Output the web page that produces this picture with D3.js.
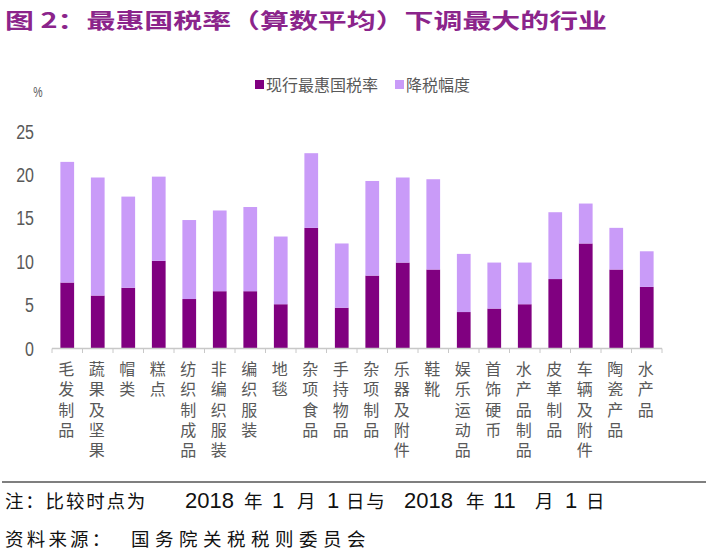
<!DOCTYPE html>
<html><head><meta charset="utf-8">
<script src="https://cdn.jsdelivr.net/npm/d3@7"></script>
<style>
html,body{margin:0;padding:0;background:#fff;}
svg{display:block;}
text{font-family:"Noto Sans CJK SC","Noto Sans",sans-serif;}
</style></head>
<body>
<script>
const categories = ["毛发制品","蔬果及坚果","帽类","糕点","纺织制成品","非编织服装","编织服装","地毯","杂项食品","手持物品","杂项制品","乐器及附件","鞋靴","娱乐运动品","首饰硬币","水产品制品","皮革制品","车辆及附件","陶瓷产品","水产品"];
const currentRate = [7.6,6.1,7.0,10.1,5.7,6.6,6.6,5.1,13.9,4.7,8.4,9.9,9.1,4.2,4.6,5.1,8.0,12.1,9.1,7.1];
const preRate    = [21.5,19.7,17.5,19.8,14.8,15.9,16.3,12.9,22.5,12.1,19.3,19.7,19.5,10.9,9.9,9.9,15.7,16.7,13.9,11.2];
const cut = preRate.map((v,i)=>+(v-currentRate[i]).toFixed(2));
const yTicks = [0,5,10,15,20,25];
const seriesNames = ["现行最惠国税率","降税幅度"];
const colors = ["#800080","#C99BF8"];
const titleText = "图 2：最惠国税率（算数平均）下调最大的行业";
const noteTokens = ["注：比较时点为","2018","年","1","月","1","日与","2018","年","11","月","1","日"];
const sourceTokens = ["资料来源：","国务院关税税则委员会"];

const W=708,H=556;
const svg = d3.select("body").append("svg").attr("width",W).attr("height",H);

// title
svg.append("text").attr("x",5).attr("y",28).attr("font-size",21).attr("font-weight",700)
  .attr("fill","#8B248B").attr("textLength",602).attr("lengthAdjust","spacingAndGlyphs").text(titleText);

const x = d3.scaleBand().domain(categories).range([52,662]).paddingInner(0.55).paddingOuter(0.275);
const y = d3.scaleLinear().domain([0,25]).range([348.5,131.5]);

const stackData = categories.map((c,i)=>({cat:c, a:currentRate[i], b:cut[i]}));
const stack = d3.stack().keys(["a","b"])(stackData);

svg.append("g").selectAll("g").data(stack).join("g").attr("fill",(d,i)=>colors[i])
  .selectAll("rect").data(d=>d).join("rect")
  .attr("x",d=>x(d.data.cat)).attr("width",x.bandwidth())
  .attr("y",d=>y(d[1])).attr("height",d=>y(d[0])-y(d[1]));

// x axis line and ticks at band boundaries
const xa = svg.append("g");
const [r0,r1] = x.range();
xa.append("line").attr("x1",r0).attr("x2",r1).attr("y1",348.5).attr("y2",348.5).attr("stroke","#C8C8C8").attr("stroke-width",1.5);
const bounds = d3.range(categories.length+1).map(i=>r0+i*x.step());
xa.selectAll("line.t").data(bounds).join("line").attr("class","t")
  .attr("x1",d=>d).attr("x2",d=>d).attr("y1",348.5).attr("y2",353).attr("stroke","#C8C8C8").attr("stroke-width",1);

// y labels
const yg = svg.append("g");
yg.selectAll("text").data(yTicks).join("text")
  .attr("transform",d=>`translate(34,${y(d)+7}) scale(0.8,1)`)
  .attr("text-anchor","end").attr("font-size",20).attr("fill","#595959")
  .style("font-family","'Liberation Sans',Arial,sans-serif").text(d=>d);
svg.append("text").attr("transform","translate(38,97) scale(0.75,1)").attr("text-anchor","middle")
  .attr("font-size",14).attr("fill","#595959").style("font-family","'Liberation Sans',Arial,sans-serif").text("%");

// x labels vertical, one character per line
const xl = svg.append("g");
categories.forEach(c=>{
  const cx = x(c)+x.bandwidth()/2 - 1;
  const t = xl.append("text").attr("text-anchor","middle").attr("font-size",16).attr("fill","#595959")
    .style("font-family","'Liberation Sans','Noto Sans CJK SC',sans-serif");
  Array.from(c).forEach((ch,j)=>{
    t.append("tspan").attr("x",cx).attr("y",375+j*20.25).text(ch);
  });
});

// legend
const lg = svg.append("g");
[[255,266,112],[395,406,64]].forEach((p,i)=>{
  lg.append("rect").attr("x",p[0]).attr("y",80).attr("width",9).attr("height",9).attr("fill",colors[i]);
  lg.append("text").attr("x",p[1]).attr("y",91).attr("font-size",16).attr("fill","#595959")
    .attr("textLength",p[2]).attr("lengthAdjust","spacingAndGlyphs").text(seriesNames[i]);
});

// footer
svg.append("line").attr("x1",2).attr("x2",706).attr("y1",482).attr("y2",482).attr("stroke","#7F7F7F").attr("stroke-width",2);
const noteX = [5,185,244,272,297,327,346,404,466,493,535,565,586];
const note = svg.append("text").attr("y",508).attr("fill","#111");
noteTokens.forEach((t,i)=>{
  const isNum = /^\d+$/.test(t);
  note.append("tspan").attr("x",noteX[i])
    .style("font-family", isNum ? "'Liberation Sans',Arial,sans-serif" : null)
    .attr("font-size", isNum ? 22 : 18.5)
    .style("letter-spacing", isNum ? "0px" : "1.8px").text(t);
});
const src = svg.append("text").attr("y",546).attr("fill","#111").attr("font-size",18.5);
src.append("tspan").attr("x",5).style("letter-spacing","3.2px").text(sourceTokens[0]);
src.append("tspan").attr("x",131).style("letter-spacing","5.5px").text(sourceTokens[1]);
</script>
</body></html>
